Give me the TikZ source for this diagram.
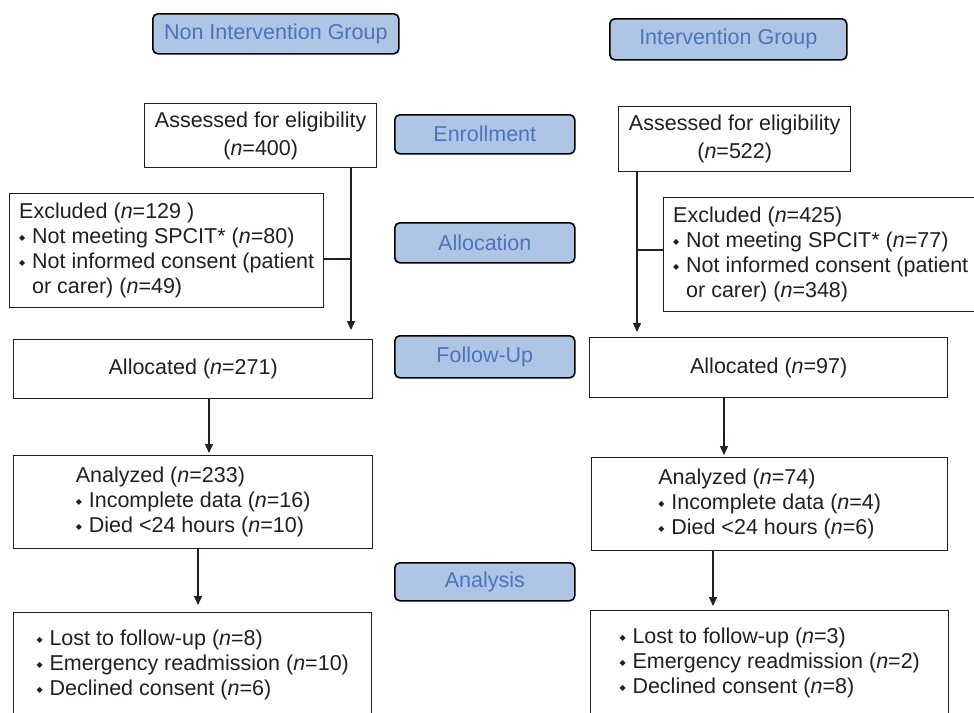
\documentclass[tikz,border=0pt]{standalone}
\usepackage{fontspec}
\setmainfont{Liberation Sans}
\newfontfamily\symf{DejaVu Sans}
\usetikzlibrary{arrows.meta}
\definecolor{stagefill}{HTML}{AFC5E6}
\definecolor{stagetext}{HTML}{4A74BC}
\definecolor{ink}{HTML}{231F20}
\newcommand\bul{\makebox[13pt][l]{\raisebox{3pt}{\symf\fontsize{8}{8}\selectfont ◆}}}
\newcommand\nn{\textit{n}}
\begin{document}
\begin{tikzpicture}[x=1pt,y=-1pt,
  font=\fontsize{21.5}{25}\selectfont, text=ink,
  box/.style={draw=ink, line width=1.4pt, rectangle, inner sep=0pt, anchor=north west},
  twoline/.style={align=center, font=\fontsize{21.5}{28}\selectfont},
  stage/.style={draw=black, line width=1.6pt, rounded corners=5pt, fill=stagefill,
    text=stagetext, inner sep=0pt, anchor=north west},
  arr/.style={line width=1.4pt, draw=ink, -{Triangle[length=9pt,width=8pt]}},
  conn/.style={line width=1.4pt, draw=ink}]
\useasboundingbox (0,0) rectangle (974,712);
\fill[white] (0,0) rectangle (974,712);
\clip (0,0) rectangle (974,712);

% stage labels
\node[stage, minimum width=246, minimum height=40] (ng) at (152,13) {Non Intervention Group};
\node[stage, minimum width=237, minimum height=41] (ig) at (609,18) {Intervention Group};
\node[stage, minimum width=180, minimum height=39] (enr) at (394,114) {Enrollment};
\node[stage, minimum width=180, minimum height=40] (alc) at (394,222) {Allocation};
\node[stage, minimum width=180, minimum height=42] (fu) at (394,335) {Follow-Up};
\node[stage, minimum width=180, minimum height=38] (ana) at (394,562) {Analysis};

% left column
\node[box, twoline, minimum width=232, minimum height=64] (La) at (144,103)
  {Assessed for eligibility\\(\nn=400)};
\node[box, align=left, minimum width=314, minimum height=114] (Le) at (9,193)
  {Excluded (\nn=129 )\\\bul Not meeting SPCIT* (\nn=80)\\\bul Not informed consent (patient\\\hspace*{13pt}or carer) (\nn=49)};
\node[box, minimum width=359, minimum height=59] (Lal) at (13,339) {Allocated (\nn=271)};
\node[box, align=left, minimum width=359, minimum height=93] (Lan) at (13,455)
  {Analyzed (\nn=233)\\\bul Incomplete data (\nn=16)\\\bul Died <24 hours (\nn=10)};
\node[box, align=left, minimum width=358, minimum height=104] (Lb) at (13,612)
  {\bul Lost to follow-up (\nn=8)\\\bul Emergency readmission (\nn=10)\\\bul Declined consent (\nn=6)};

% right column
\node[box, twoline, minimum width=232, minimum height=65] (Ra) at (618,106)
  {Assessed for eligibility\\(\nn=522)};
\node[box, align=left, minimum width=314, minimum height=114] (Re) at (663,197)
  {Excluded (\nn=425)\\\bul Not meeting SPCIT* (\nn=77)\\\bul Not informed consent (patient\\\hspace*{13pt}or carer) (\nn=348)};
\node[box, minimum width=358, minimum height=60] (Ral) at (589,337) {Allocated (\nn=97)};
\node[box, align=left, minimum width=356, minimum height=93] (Ran) at (591,457)
  {Analyzed (\nn=74)\\\bul Incomplete data (\nn=4)\\\bul Died <24 hours (\nn=6)};
\node[box, align=left, minimum width=358, minimum height=104] (Rb) at (590,610)
  {\bul Lost to follow-up (\nn=3)\\\bul Emergency readmission (\nn=2)\\\bul Declined consent (\nn=8)};

% connectors, left
\coordinate (Lt) at (351,0);
\coordinate (Lj) at (351,259);
\coordinate (Lx1) at (209,0);
\coordinate (Lx2) at (198,0);
\draw[arr, shorten >=9pt] (La.south -| Lt) -- (Lal.north -| Lt);
\draw[conn] (Le.east |- Lj) -- (Lj);
\draw[arr, shorten >=2pt] (Lal.south -| Lx1) -- (Lan.north -| Lx1);
\draw[arr, shorten >=7pt] (Lan.south -| Lx2) -- (Lb.north -| Lx2);

% connectors, right
\coordinate (Rt) at (637,0);
\coordinate (Rj) at (637,250);
\coordinate (Rx1) at (724,0);
\coordinate (Rx2) at (713,0);
\draw[arr, shorten >=5pt] (Ra.south -| Rt) -- (Ral.north -| Rt);
\draw[conn] (Re.west |- Rj) -- (Rj);
\draw[arr, shorten >=2pt] (Ral.south -| Rx1) -- (Ran.north -| Rx1);
\draw[arr, shorten >=4pt] (Ran.south -| Rx2) -- (Rb.north -| Rx2);
\end{tikzpicture}
\end{document}
